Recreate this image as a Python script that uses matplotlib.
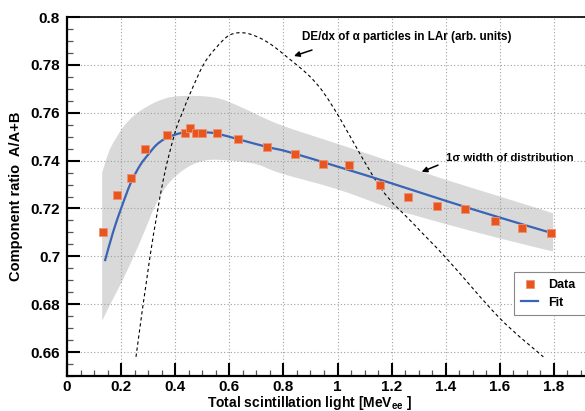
import numpy as np
import matplotlib
matplotlib.use("Agg")
import matplotlib.pyplot as plt
from matplotlib.ticker import MultipleLocator
from matplotlib.path import Path
from matplotlib.patches import PathPatch
from matplotlib.lines import Line2D

plt.rcParams['font.family'] = ['Liberation Sans', 'DejaVu Sans']
plt.rcParams['font.weight'] = 'bold'
plt.rcParams['mathtext.fontset'] = 'custom'
plt.rcParams['mathtext.rm'] = 'Liberation Sans:bold'
plt.rcParams['mathtext.default'] = 'rm'

# measured points
data_x = [0.132, 0.184, 0.237, 0.289, 0.368, 0.436, 0.455, 0.477, 0.498, 0.553,
          0.633, 0.738, 0.843, 0.946, 1.042, 1.157, 1.26, 1.368, 1.471, 1.582,
          1.682, 1.789]
data_y = [0.7103, 0.7256, 0.7326, 0.745, 0.7505, 0.7514, 0.7535, 0.7515, 0.7515, 0.7516,
          0.749, 0.7458, 0.7426, 0.7386, 0.7383, 0.7298, 0.7248, 0.721, 0.7197, 0.7147,
          0.7118, 0.7097]

# fit curve
fit_x = [0.14, 0.17, 0.2, 0.235, 0.27, 0.3, 0.33, 0.36, 0.393, 0.425, 0.455, 0.5,
         0.553, 0.64, 0.74, 0.82, 1.0, 1.2, 1.4, 1.6, 1.79]
fit_y = [0.698, 0.710, 0.720, 0.7305, 0.738, 0.7425, 0.7465, 0.7490, 0.7506, 0.7516,
         0.752, 0.7519, 0.7513, 0.7487, 0.7457, 0.7436, 0.7375, 0.7305, 0.7232, 0.7162,
         0.7098]

# 1 sigma band edges
band_up_x = [0.13, 0.16, 0.208, 0.25, 0.295, 0.34, 0.393, 0.48, 0.56, 0.64, 0.787,
             1.0, 1.2, 1.4, 1.6, 1.797]
band_up_y = [0.735, 0.745, 0.754, 0.759, 0.7625, 0.765, 0.7667, 0.767, 0.766, 0.7625,
             0.755, 0.747, 0.7395, 0.732, 0.725, 0.718]
band_lo_x = [0.13, 0.16, 0.21, 0.27, 0.33, 0.38, 0.45, 0.52, 0.6, 0.7, 0.787, 1.0,
             1.2, 1.4, 1.6, 1.797]
band_lo_y = [0.673, 0.680, 0.691, 0.706, 0.722, 0.731, 0.7375, 0.7402, 0.740, 0.7385,
             0.7348, 0.728, 0.720, 0.7135, 0.7075, 0.702]

# dE/dx of alpha particles (arb. units)
dedx_x = [0.255, 0.307, 0.356, 0.40, 0.43, 0.455, 0.504, 0.55, 0.602, 0.664, 0.738,
          0.812, 0.911, 0.991, 1.157, 1.28, 1.404, 1.601, 1.761]
dedx_y = [0.658, 0.700, 0.732, 0.752, 0.761, 0.768, 0.780, 0.787, 0.7925, 0.7932,
          0.7897, 0.7834, 0.7736, 0.761, 0.729, 0.7137, 0.699, 0.674, 0.658]


def smooth_verts(xs, ys):
    # catmull-rom through the read points, as cubic bezier pieces
    p = np.column_stack([xs, ys]).astype(float)
    ext = np.vstack([p[0], p, p[-1]])
    verts = [p[0]]
    codes = [Path.MOVETO]
    for i in range(1, len(ext) - 2):
        c1 = ext[i] + (ext[i + 1] - ext[i - 1]) / 6
        c2 = ext[i + 1] - (ext[i + 2] - ext[i]) / 6
        verts += [c1, c2, ext[i + 1]]
        codes += [Path.CURVE4] * 3
    return verts, codes


fig = plt.figure(figsize=(5.85, 4.11), dpi=100)
ax = fig.add_axes([67/585, 35/411, 527.5/585, 359/411])

# band
v_up, c_up = smooth_verts(band_up_x, band_up_y)
v_lo, c_lo = smooth_verts(band_lo_x[::-1], band_lo_y[::-1])
c_lo[0] = Path.LINETO
band = Path(v_up + v_lo + [v_up[0]], c_up + c_lo + [Path.CLOSEPOLY])
ax.add_patch(PathPatch(band, facecolor='#d9d9d9', lw=0, zorder=0.2))

v, c = smooth_verts(dedx_x, dedx_y)
ax.add_patch(PathPatch(Path(v, c), fill=False, edgecolor='black', lw=0.8,
                       linestyle=(0, (3, 2.5)), zorder=2))
v, c = smooth_verts(fit_x, fit_y)
ax.add_patch(PathPatch(Path(v, c), fill=False, edgecolor='#3a64b4', lw=1.6, zorder=3))
ax.plot(data_x, data_y, ls='none', marker='s', ms=6.4, color='#e8561f',
        mec='#f09070', mew=0.6, zorder=4)

ax.set_xlim(0, 1.95)
ax.set_ylim(0.65, 0.8)
ax.xaxis.set_minor_locator(MultipleLocator(0.05))
ax.yaxis.set_minor_locator(MultipleLocator(0.005))
ax.set_xticks(np.arange(0, 1.81, 0.2))
ax.set_xticklabels(['0', '0.2', '0.4', '0.6', '0.8', '1', '1.2', '1.4', '1.6', '1.8'])
ax.set_yticks(np.arange(0.66, 0.801, 0.02))
ax.set_yticklabels(['0.66', '0.68', '0.7', '0.72', '0.74', '0.76', '0.78', '0.8'])

ax.tick_params(which='major', direction='in', length=9.5, width=1.5, labelsize=11, pad=5)
ax.tick_params(which='minor', direction='in', length=4.5, width=0.9, color='#555555')
ax.tick_params(axis='x', which='major', pad=3)
ax.set_axisbelow(True)
ax.grid(which='major', color='#a0a0a0', lw=0.8, ls=(0, (1, 2)))

for s in ['left', 'bottom']:
    ax.spines[s].set_linewidth(1.6)
ax.spines['top'].set_linewidth(1.2)

ax.set_xlabel('Total scintillation light [MeV$_{ee}$ ]', fontsize=10,
              fontweight='bold')
ax.xaxis.set_label_coords(0.459, -0.051, transform=ax.transAxes)
ax.xaxis.label.set_va('top')
ax.set_ylabel('Component ratio  A/A+B', fontsize=10.5, fontweight='bold', labelpad=5)

ax.text(0.867, 0.7915, 'DE/dx of α particles in LAr (arb. units)', fontsize=8.4,
        fontweight='bold', va='center', ha='left')
ax.annotate('', xy=(0.839, 0.7837), xytext=(0.9057, 0.7862),
            arrowprops=dict(arrowstyle='-|>', color='black', lw=1.1,
                            mutation_scale=8, shrinkA=0, shrinkB=0))
ax.annotate('', xy=(1.311, 0.7353), xytext=(1.3715, 0.7381),
            arrowprops=dict(arrowstyle='-|>', color='black', lw=1.1,
                            mutation_scale=8, shrinkA=0, shrinkB=0))
ax.text(1.400, 0.741, '1σ width of distribution', fontsize=8.2, fontweight='bold',
        va='center', ha='left')

h_data = Line2D([], [], ls='none', marker='s', ms=6.4, color='#e8561f',
                mec='#f09070', mew=0.6)
h_fit = Line2D([], [], color='#3a64b4', lw=1.6)
leg = ax.legend([h_data, h_fit], ['Data', 'Fit'], loc='upper left', mode='expand',
                bbox_to_anchor=(514/585, 1 - 272/411, 0.16, 0),
                bbox_transform=fig.transFigure,
                fontsize=9, frameon=True, fancybox=False, edgecolor='#888888',
                framealpha=1, handlelength=1.4, handletextpad=0.75, borderpad=0.55,
                labelspacing=0.45, borderaxespad=0)
leg.get_frame().set_linewidth(0.8)

fig.savefig('out.png', dpi=100)
